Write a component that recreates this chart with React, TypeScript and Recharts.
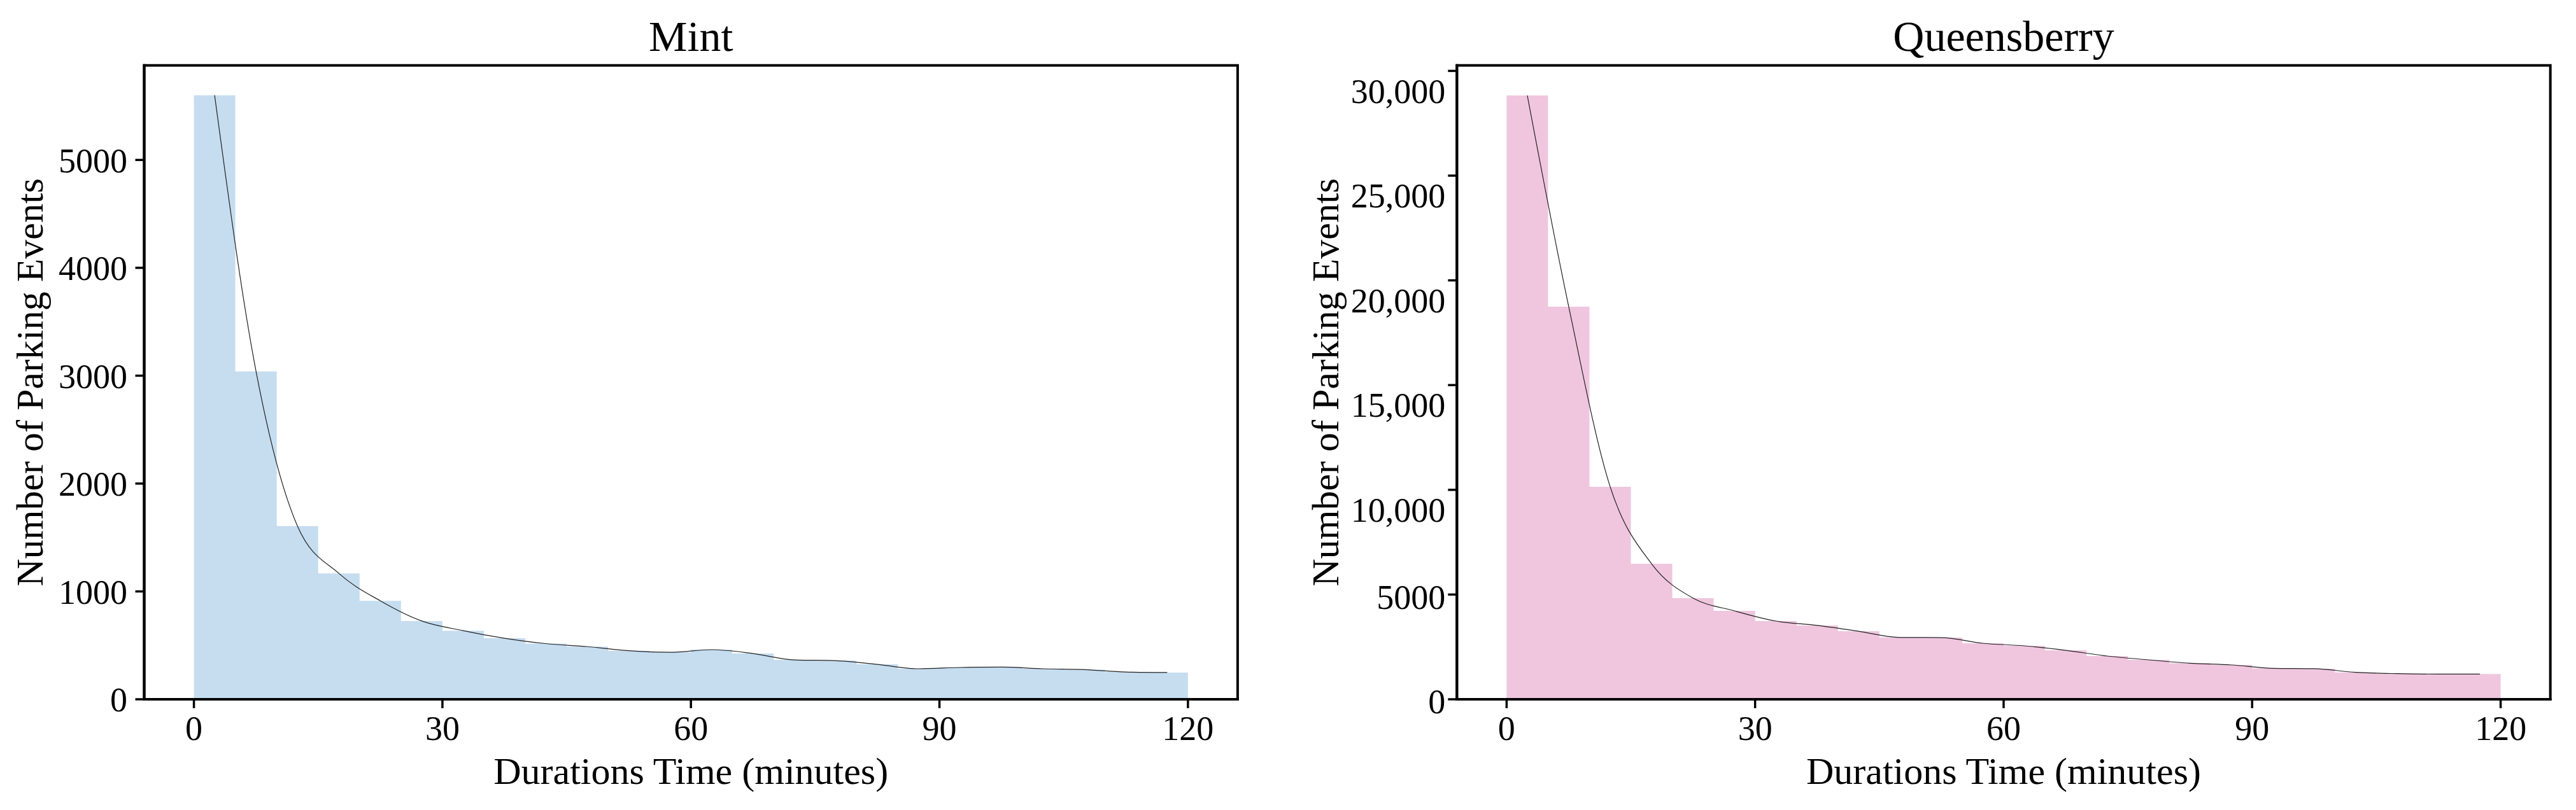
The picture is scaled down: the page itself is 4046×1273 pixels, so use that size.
import React from 'react';
import { ComposedChart, Area, Line, XAxis, YAxis, ReferenceArea } from 'recharts';

// ---------- data ----------
const binEdges = [0, 5, 10, 15, 20, 25, 30, 35, 40, 45, 50, 55, 60, 65, 70, 75, 80, 85, 90, 95, 100, 105, 110, 115, 120];
const binCenters = [2.5, 7.5, 12.5, 17.5, 22.5, 27.5, 32.5, 37.5, 42.5, 47.5, 52.5, 57.5, 62.5, 67.5, 72.5, 77.5, 82.5, 87.5, 92.5, 97.5, 102.5, 107.5, 112.5, 117.5];

const mintCounts = [5600, 3040, 1606, 1167, 913, 726, 636, 566, 516, 488, 450, 436, 460, 424, 365, 358, 324, 283, 295, 299, 283, 275, 253, 248];
const queensberryCounts = [28827, 18742, 10146, 6468, 4830, 4222, 3736, 3527, 3247, 2953, 2945, 2673, 2552, 2338, 2066, 1883, 1721, 1640, 1480, 1460, 1286, 1225, 1205, 1205];

const xTicks = [0, 30, 60, 90, 120];
const xTickLabels = ['0', '30', '60', '90', '120'];

const mintYTicks = [0, 1000, 2000, 3000, 4000, 5000];
const mintYTickLabels = ['0', '1000', '2000', '3000', '4000', '5000'];
const mintYMax = 5877;

const queensberryYTicks = [0, 5000, 10000, 15000, 20000, 25000, 30000];
const queensberryYTickLabels = ['0', '5000', '10,000', '15,000', '20,000', '25,000', '30,000'];
const queensberryYMax = 30265;

const xDomain = [-6, 126];

const titles = ['Mint', 'Queensberry'];
const xLabel = 'Durations Time (minutes)';
const yLabel = 'Number of Parking Events';

// ---------- styles ----------
const FONT = "'Liberation Serif', 'Times New Roman', Times, serif";
const CHART_W = 2023;
const CHART_H = 1273;
const PLOT_TOP = 102.7;
const PLOT_BOTTOM = 1099;
const PLOT_W = 1717.4;

const histData = (counts: number[]) =>
  binEdges.map((e, i) => ({ x: e, count: counts[Math.min(i, counts.length - 1)] }));
const lineData = (counts: number[]) => binCenters.map((c, i) => ({ x: c, count: counts[i] }));

type PanelProps = {
  title: string;
  counts: number[];
  color: string;
  yTicks: number[];
  yTickLabels: string[];
  yMax: number;
  plotLeft: number;
  yLabelX: number;
  yTickMargin: number;
  shiftComma: boolean;
};

const Panel = (p: PanelProps) => {
  const plotRight = p.plotLeft + PLOT_W;
  const yAxisW = 200;
  const centerX = p.plotLeft + PLOT_W / 2;
  const centerY = (PLOT_TOP + PLOT_BOTTOM) / 2;

  const yTick = (props: any) => {
    const { x, y, payload } = props;
    const idx = p.yTicks.indexOf(payload.value);
    const label = idx >= 0 ? p.yTickLabels[idx] : String(payload.value);
    const dy = p.shiftComma ? (label.includes(',') ? 31 : 3) : 0;
    return (
      <text x={x} y={y + dy} dy="0.355em" textAnchor="end" fontSize={54} fontFamily={FONT} fill="#000">
        {label}
      </text>
    );
  };

  const xTick = (props: any) => {
    const { x, y, payload } = props;
    const idx = xTicks.indexOf(payload.value);
    const label = idx >= 0 ? xTickLabels[idx] : String(payload.value);
    return (
      <text x={x} y={y} dy="0.71em" textAnchor="middle" fontSize={54} fontFamily={FONT} fill="#000">
        {label}
      </text>
    );
  };

  const xAxisLabel = () => (
    <g>
      <text x={centerX} y={1231.7} textAnchor="middle" fontSize={60} fontFamily={FONT} fill="#000">
        {xLabel}
      </text>
      <text x={centerX} y={80} textAnchor="middle" fontSize={68} fontFamily={FONT} fill="#000">
        {p.title}
      </text>
    </g>
  );
  const yAxisLabel = () => (
    <text
      x={p.yLabelX}
      y={centerY}
      transform={`rotate(-90, ${p.yLabelX}, ${centerY})`}
      textAnchor="middle"
      fontSize={60}
      fontFamily={FONT}
      fill="#000"
    >
      {yLabel}
    </text>
  );

  const spine = { stroke: '#000', strokeWidth: 4, strokeLinecap: 'square' as const };
  const tickLine = { stroke: '#000', strokeWidth: 3.5 };

  return (
    <ComposedChart
      width={CHART_W}
      height={CHART_H}
      margin={{ top: PLOT_TOP, bottom: 0, left: p.plotLeft - yAxisW, right: CHART_W - plotRight }}
    >
      <XAxis
        xAxisId="b"
        dataKey="x"
        type="number"
        domain={xDomain}
        ticks={xTicks}
        interval={0}
        allowDataOverflow
        height={CHART_H - PLOT_BOTTOM}
        tickSize={14}
        tickMargin={12}
        axisLine={spine}
        tickLine={tickLine}
        tick={xTick}
        label={xAxisLabel}
      />
      <YAxis
        yAxisId="l"
        type="number"
        domain={[0, p.yMax]}
        ticks={p.yTicks}
        interval={0}
        allowDataOverflow
        width={yAxisW}
        tickSize={14}
        tickMargin={p.yTickMargin}
        axisLine={spine}
        tickLine={tickLine}
        tick={yTick}
        label={yAxisLabel}
      />
      <Area
        xAxisId="b"
        yAxisId="l"
        data={histData(p.counts)}
        dataKey="count"
        type="stepAfter"
        stroke="none"
        fill={p.color}
        fillOpacity={1}
        dot={false}
        activeDot={false}
        isAnimationActive={false}
      />
      <Line
        xAxisId="b"
        yAxisId="l"
        data={lineData(p.counts)}
        dataKey="count"
        type="monotone"
        stroke="#222"
        strokeWidth={1.2}
        dot={false}
        activeDot={false}
        isAnimationActive={false}
      />
      <ReferenceArea
        xAxisId="b"
        yAxisId="l"
        x1={xDomain[0]}
        x2={xDomain[1]}
        y1={0}
        y2={p.yMax}
        fill="none"
        fillOpacity={0}
        stroke="#000"
        strokeWidth={4}
        strokeOpacity={1}
        ifOverflow="visible"
      />
    </ComposedChart>
  );
};

export default function App() {
  return (
    <div style={{ position: 'absolute', left: 0, top: 0, width: 4046, height: 1273, background: '#fff' }}>
      <div style={{ position: 'absolute', left: 0, top: 0 }}>
        <Panel
          title={titles[0]}
          counts={mintCounts}
          color="#c6ddf0"
          yTicks={mintYTicks}
          yTickLabels={mintYTickLabels}
          yMax={mintYMax}
          plotLeft={226.5}
          yLabelX={67}
          yTickMargin={12.5}
          shiftComma={false}
        />
      </div>
      <div style={{ position: 'absolute', left: 2023, top: 0 }}>
        <Panel
          title={titles[1]}
          counts={queensberryCounts}
          color="#f0c6df"
          yTicks={queensberryYTicks}
          yTickLabels={queensberryYTickLabels}
          yMax={queensberryYMax}
          plotLeft={265.3}
          yLabelX={78.7}
          yTickMargin={4}
          shiftComma={true}
        />
      </div>
    </div>
  );
}
